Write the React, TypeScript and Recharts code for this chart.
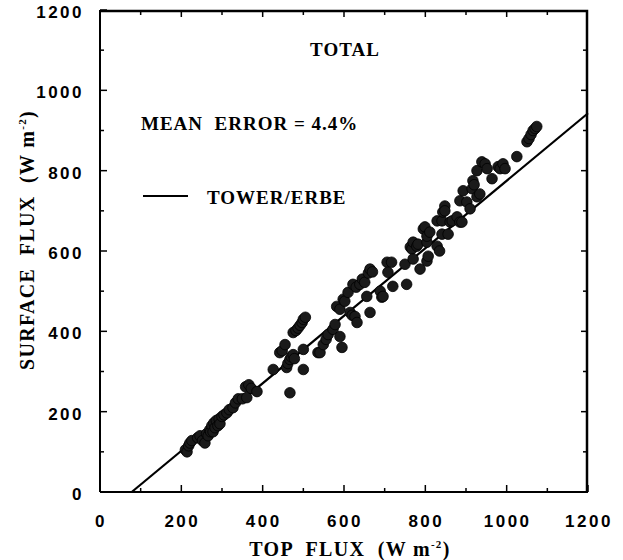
import { ScatterChart, Scatter, XAxis, YAxis, ReferenceLine } from "recharts";

// TOA flux (x) vs surface flux (y), W m-2
const TOP_FLUX = [
  210, 214, 218, 221, 226, 240, 246, 252, 258, 262, 266, 270, 272, 275, 278, 280, 283, 286, 290, 293,
  295, 300, 305, 312, 318, 327, 333, 340, 350, 361, 358, 366, 372, 386, 426, 442, 448, 455, 459, 462,
  467, 467, 470, 475, 478, 475, 482, 487, 492, 497, 500, 505, 500, 500, 536, 541, 549, 556, 561, 573,
  578, 590, 595, 582, 590, 598, 602, 610, 615, 620, 627, 632, 622, 630, 639, 645, 651, 656, 664, 660,
  664, 670, 689, 693, 696, 706, 708, 717, 720, 750, 754, 763, 767, 770, 770, 779, 782, 787, 795, 799,
  804, 804, 804, 807, 811, 829, 835, 829, 841, 841, 843, 848, 848, 856, 861, 866, 878, 885, 885, 890,
  893, 902, 910, 915, 917, 920, 927, 927, 934, 939, 947, 952, 964, 979, 984, 991, 996, 1025, 1050, 1055,
  1060, 1065, 1070, 1074,
];
const SURFACE_FLUX = [
  105, 100, 115, 122, 128, 135, 140, 128, 122, 145, 140, 155, 150, 165, 150, 172, 160, 178, 165, 182,
  170, 188, 192, 197, 205, 210, 222, 232, 232, 235, 262, 267, 258, 250, 305, 347, 352, 367, 310, 320,
  247, 330, 337, 342, 332, 397, 402, 408, 415, 422, 430, 435, 305, 355, 347, 347, 367, 380, 392, 405,
  417, 387, 360, 462, 455, 480, 475, 497, 447, 440, 437, 422, 517, 510, 517, 530, 522, 487, 447, 545,
  555, 548, 500, 485, 487, 572, 547, 572, 512, 567, 517, 610, 605, 580, 622, 612, 617, 555, 655, 660,
  575, 622, 637, 587, 647, 612, 600, 675, 642, 675, 697, 712, 700, 642, 672, 675, 685, 672, 725, 672,
  750, 722, 705, 755, 775, 765, 735, 800, 742, 822, 817, 805, 780, 810, 805, 817, 805, 835, 872, 880,
  890, 900, 905, 910,
];

const AXIS_TICKS = [0, 100, 200, 300, 400, 500, 600, 700, 800, 900, 1000, 1100, 1200];
const AXIS_MAX = 1200;
const FIT_LINE = [
  { x: 78, y: 0 },
  { x: 1200, y: 943 },
];

const data = TOP_FLUX.map((top, i) => ({ top, surface: SURFACE_FLUX[i] }));

const W = 623;
const H = 560;
const MARGIN = { top: 10, right: 35, bottom: 0, left: 0 };
const Y_AXIS_W = 100;
const X_AXIS_H = 68;
// plot box edges, from the layout above
const PLOT_L = MARGIN.left + Y_AXIS_W;
const PLOT_R = W - MARGIN.right;
const PLOT_T = MARGIN.top;
const PLOT_B = H - MARGIN.bottom - X_AXIS_H;

const SERIF = "'Liberation Serif', 'Times New Roman', serif";
const SANS = "'Liberation Sans', Arial, sans-serif";

const isMajor = (v: number) => v % 200 === 0;

function BottomTick({ x, y, payload }: any) {
  const major = isMajor(payload.value);
  return (
    <g>
      <line x1={x} x2={x} y1={y} y2={y - (major ? 7 : 4)} stroke="#000" strokeWidth={1.5} />
      {major && (
        <text x={x + 1} y={y + 35} textAnchor="middle" fontFamily={SANS} fontWeight="bold" fontSize={17} letterSpacing={2.5} fill="#000">
          {payload.value}
        </text>
      )}
    </g>
  );
}

function LeftTick({ x, y, payload }: any) {
  const major = isMajor(payload.value);
  return (
    <g>
      <line x1={x} x2={x + (major ? 7 : 4)} y1={y} y2={y} stroke="#000" strokeWidth={1.5} />
      {major && (
        <text x={x - 16} y={y + 8} textAnchor="end" fontFamily={SANS} fontWeight="bold" fontSize={17} letterSpacing={2.5} fill="#000">
          {payload.value}
        </text>
      )}
    </g>
  );
}

const Dot = (p: any) => <circle cx={p.cx} cy={p.cy} r={5.3} fill="#1a1a1a" stroke="#000" strokeWidth={0.8} />;

// top and right sides of the box with inward ticks (same tick values as the axes)
function BoxEdges() {
  const tx = (v: number) => PLOT_L + (v / AXIS_MAX) * (PLOT_R - PLOT_L);
  const ty = (v: number) => PLOT_B - (v / AXIS_MAX) * (PLOT_B - PLOT_T);
  return (
    <g>
      <path
        d={`M ${PLOT_L} ${PLOT_T + 1} L ${PLOT_R - 1} ${PLOT_T + 1} L ${PLOT_R - 1} ${PLOT_B}`}
        fill="none"
        stroke="#000"
        strokeWidth={2.5}
      />
      {AXIS_TICKS.slice(1, -1).map((v) => (
        <line key={`t${v}`} x1={tx(v)} x2={tx(v)} y1={PLOT_T} y2={PLOT_T + (isMajor(v) ? 7 : 5)} stroke="#000" strokeWidth={1.5} />
      ))}
      {AXIS_TICKS.slice(1, -1).map((v) => (
        <line key={`r${v}`} x1={PLOT_R} x2={PLOT_R - (isMajor(v) ? 7 : 5)} y1={ty(v)} y2={ty(v)} stroke="#000" strokeWidth={1.5} />
      ))}
    </g>
  );
}

export default function App() {
  const serifText = {
    fontFamily: SERIF,
    fontWeight: "bold" as const,
    fontSize: 19,
    letterSpacing: 1,
    fill: "#000",
    xmlSpace: "preserve",
    style: { whiteSpace: "pre" as const },
  };
  const titleText = { ...serifText, fontSize: 20, letterSpacing: 1.3 };
  return (
    <div style={{ position: "absolute", left: 0, top: 0, width: W, height: H, background: "#fff" }}>
      <ScatterChart width={W} height={H} margin={MARGIN}>
        <XAxis
          dataKey="top"
          type="number"
          domain={[0, AXIS_MAX]}
          ticks={AXIS_TICKS}
          interval={0}
          height={X_AXIS_H}
          tickSize={0}
          tickMargin={0}
          tick={<BottomTick />}
          axisLine={{ stroke: "#000", strokeWidth: 2 }}
        />
        <YAxis
          dataKey="surface"
          type="number"
          domain={[0, AXIS_MAX]}
          ticks={AXIS_TICKS}
          interval={0}
          width={Y_AXIS_W}
          tickSize={0}
          tickMargin={0}
          tick={<LeftTick />}
          axisLine={{ stroke: "#000", strokeWidth: 2 }}
        />
        <ReferenceLine segment={FIT_LINE} stroke="#000" strokeWidth={2.2} ifOverflow="visible" />
        <Scatter data={data} shape={Dot} isAnimationActive={false} />
      </ScatterChart>

      <svg width={W} height={H} style={{ position: "absolute", left: 0, top: 0, pointerEvents: "none" }}>
        <BoxEdges />
        <text x={345} y={56} textAnchor="middle" {...serifText}>TOTAL</text>
        <text x={141} y={130} {...serifText}>{"MEAN  ERROR = 4.4%"}</text>
        <line x1={143} x2={188} y1={196} y2={196} stroke="#000" strokeWidth={2} />
        <text x={207} y={204} {...serifText}>TOWER/ERBE</text>
        <text x={350} y={556} textAnchor="middle" {...titleText}>
          {"TOP  FLUX  (W m"}
          <tspan fontSize={11} dy={-8}>-2</tspan>
          <tspan dy={8}>)</tspan>
        </text>
        <text x={34} y={240} textAnchor="middle" transform="rotate(-90 34 240)" {...titleText}>
          {"SURFACE  FLUX  (W m"}
          <tspan fontSize={11} dy={-8}>-2</tspan>
          <tspan dy={8}>)</tspan>
        </text>
      </svg>
    </div>
  );
}
